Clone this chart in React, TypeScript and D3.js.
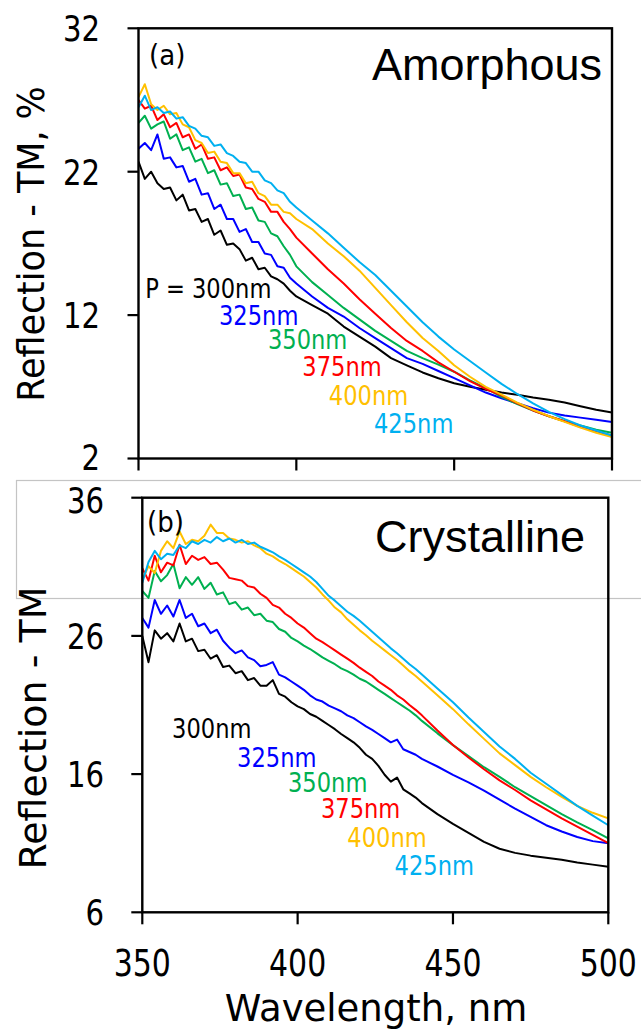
import React from "react";
import * as d3 from "d3";

// ---------- DATA ----------
// Panel (a) Amorphous: wavelength grid (nm)
const wlA = [
  350, 352, 354, 356, 358, 360, 362, 364, 366, 368, 370, 372, 374, 376, 378, 380,
  382, 384, 386, 388, 390, 392, 394, 396, 398, 400,
  405, 410, 415, 420, 425, 430, 435, 440, 445, 450, 455, 460, 465, 470, 475, 480,
  485, 490, 495, 500,
];
const amP300 = [
  22.7, 21.5, 22.0, 21.2, 20.8, 20.9, 20.0, 20.4, 19.3, 19.4, 18.5, 18.7, 17.6, 17.9, 16.9, 17.0,
  16.6, 15.8, 16.0, 15.2, 15.3, 14.7, 14.5, 14.2, 13.7, 13.3,
  12.7, 12.1, 11.2, 10.5, 9.8, 9.0, 8.5, 8.0, 7.6, 7.25, 7.0, 6.8, 6.6, 6.45, 6.25, 6.1,
  5.9, 5.65, 5.4, 5.2,
];
const amP325 = [
  23.6, 24.0, 23.5, 24.6, 22.9, 23.0, 22.3, 22.4, 21.3, 21.5, 20.4, 20.5, 19.4, 19.7, 18.7, 18.7,
  17.8, 18.0, 17.1, 17.1, 16.3, 16.2, 15.4, 15.3, 14.6, 14.2,
  13.3, 12.5, 11.9, 11.1, 10.4, 9.7, 9.0, 8.6, 8.1, 7.6, 7.1, 6.6, 6.2, 5.85, 5.5, 5.2,
  5.0, 4.85, 4.7, 4.55,
];
const amP350 = [
  25.4, 25.9, 25.0, 25.3, 25.5, 24.3, 24.6, 23.5, 23.7, 22.7, 22.9, 21.9, 22.1, 21.1, 21.2, 20.3,
  20.4, 19.4, 19.5, 18.6, 18.5, 17.7, 17.5, 16.8, 16.2, 15.4,
  14.3, 13.4, 12.5, 11.7, 10.9, 10.2, 9.5, 9.0, 8.55, 8.05, 7.45, 6.9, 6.3, 5.8, 5.35, 4.95,
  4.6, 4.3, 4.0, 3.8,
];
const amP375 = [
  27.0, 26.4, 26.6, 25.6, 26.0, 25.1, 25.4, 24.4, 24.6, 23.6, 23.9, 22.9, 23.0, 22.1, 22.3, 21.7,
  21.8, 20.9, 20.8, 20.1, 19.9, 19.2, 19.2, 18.5, 18.0, 17.4,
  16.3, 15.2, 14.2, 13.1, 12.1, 11.1, 10.2, 9.5, 8.7, 8.05, 7.4, 6.85, 6.4, 5.85, 5.35, 4.95,
  4.6, 4.2, 3.9, 3.6,
];
const amP400 = [
  27.2, 28.1, 26.7, 26.3, 26.6, 26.0, 26.1, 25.3, 25.1, 24.2, 24.0, 23.3, 23.4, 22.7, 22.6, 21.9,
  21.9, 21.2, 21.3, 20.5, 20.3, 19.7, 19.7, 19.2, 19.1, 18.7,
  18.0, 17.0, 16.1, 15.1, 13.9, 12.7, 11.5, 10.4, 9.5, 8.5, 7.7, 7.0, 6.45, 5.9, 5.4, 4.95,
  4.55, 4.15, 3.8, 3.5,
];
const amP425 = [
  26.5, 27.3, 26.3, 26.5, 26.1, 26.2, 25.7, 25.8, 25.2, 25.0, 24.5, 24.4, 23.8, 23.9, 23.3, 23.1,
  22.7, 22.6, 22.0, 22.0, 21.4, 21.2, 20.7, 20.5, 19.9, 19.5,
  18.6, 17.7, 16.7, 15.7, 14.8, 13.7, 12.6, 11.5, 10.5, 9.6, 8.8, 8.0, 7.2, 6.5, 5.85, 5.25,
  4.75, 4.3, 3.95, 3.6,
];

// Panel (b) Crystalline: wavelength grid (nm)
const wlB = [
  350, 352, 354, 356, 358, 360, 362, 364, 366, 368, 370, 372, 374, 376, 378, 380,
  382, 384, 386, 388, 390, 392, 394, 396, 398, 400, 402, 404, 406, 408, 410, 412,
  414, 416, 418, 420, 422, 424, 426, 428, 430, 432, 434, 436, 438, 440,
  445, 450, 455, 460, 465, 470, 475, 480, 485, 490, 495, 500,
];
const crP300 = [
  26.0, 24.1, 26.4, 25.8, 26.2, 25.6, 26.9, 25.6, 25.8, 24.9, 25.0, 24.35, 24.6, 23.75, 23.85, 23.3,
  23.45, 22.8, 22.95, 22.4, 22.4, 22.8, 21.8, 21.6, 21.2, 20.9, 20.7, 20.35, 20.15, 19.85, 19.55, 19.25,
  18.9, 18.6, 18.3, 17.9, 17.4, 17.1, 16.6, 15.95, 15.45, 15.75, 14.9, 14.6, 14.3, 13.9,
  13.1, 12.4, 11.75, 11.1, 10.6, 10.3, 10.1, 9.95, 9.8, 9.6, 9.45, 9.3,
];
const crP325 = [
  27.3, 26.6, 28.6, 27.6, 28.2, 27.4, 28.6, 27.3, 27.6, 26.7, 26.9, 26.2, 26.45, 25.65, 25.15, 24.75,
  24.95, 24.45, 24.25, 23.8, 23.9, 24.1, 23.2, 23.0, 22.7, 22.4, 22.1, 21.7, 21.4, 21.25, 20.95, 20.75,
  20.55, 20.25, 20.05, 19.75, 19.45, 19.2, 18.9, 18.6, 18.3, 18.5, 17.8, 17.6, 17.4, 17.1,
  16.55, 15.95, 15.4, 14.8, 14.15, 13.5, 12.9, 12.3, 11.85, 11.45, 11.15, 11.0,
];
const crP350 = [
  29.25, 28.75, 30.7, 29.95, 30.4, 31.2, 29.45, 30.25, 29.7, 30.25, 29.4, 29.85, 29.0, 29.15, 28.3, 28.45,
  27.9, 28.05, 27.5, 27.6, 27.1, 27.0, 26.5, 26.3, 25.85, 25.6, 25.3, 25.05, 24.75, 24.45, 24.2, 23.95,
  23.65, 23.45, 23.2, 22.9, 22.7, 22.4, 22.1, 21.8, 21.5, 21.2, 20.9, 20.6, 20.25, 19.85,
  18.95, 18.1, 17.3, 16.5, 15.8, 15.05, 14.4, 13.75, 13.1, 12.5, 11.95, 11.35,
];
const crP375 = [
  30.9, 30.0, 31.8, 30.6, 31.3, 31.1, 32.6, 31.2, 31.8, 31.5, 31.7, 31.2, 31.3, 30.8, 30.2, 30.1,
  30.0, 29.6, 29.5, 29.05, 28.75, 28.25, 28.05, 27.6, 27.3, 26.9, 26.6, 26.2, 25.8, 25.55, 25.25, 24.95,
  24.65, 24.35, 24.05, 23.7, 23.4, 23.1, 22.7, 22.4, 22.1, 21.7, 21.4, 21.0, 20.65, 20.25,
  19.15, 18.1, 17.2, 16.35, 15.55, 14.85, 14.1, 13.45, 12.8, 12.2, 11.6, 11.0,
];
const crP400 = [
  30.05, 31.05, 30.55, 32.15, 32.85, 32.35, 33.55, 32.65, 32.95, 32.85, 33.25, 34.05, 33.45, 33.45, 33.05, 32.95,
  32.75, 32.85, 32.55, 32.35, 31.95, 31.75, 31.45, 31.2, 30.9, 30.6, 30.3, 29.9, 29.5, 29.0, 28.55, 28.05,
  27.7, 27.2, 26.8, 26.4, 26.05, 25.65, 25.3, 24.95, 24.6, 24.25, 23.85, 23.45, 23.1, 22.7,
  21.7, 20.7, 19.6, 18.55, 17.5, 16.65, 15.8, 15.05, 14.35, 13.7, 13.2, 12.8,
];
const crP425 = [
  29.85, 31.35, 32.15, 31.55, 31.95, 31.85, 32.55, 32.35, 32.85, 32.65, 32.95, 32.75, 33.15, 32.85, 33.05, 32.75,
  32.95, 32.65, 32.75, 32.45, 32.25, 32.05, 31.75, 31.5, 31.2, 30.9, 30.6, 30.3, 29.9, 29.4, 28.9, 28.55,
  28.15, 27.75, 27.45, 27.1, 26.7, 26.3, 25.9, 25.5, 25.1, 24.75, 24.35, 23.95, 23.6, 23.2,
  22.2, 21.2, 20.1, 19.05, 18.0, 17.1, 16.1, 15.3, 14.5, 13.7, 13.0, 12.3,
];

const periods = ["300nm", "325nm", "350nm", "375nm", "400nm", "425nm"];
const seriesColors = ["#000000", "#0000ff", "#00b050", "#ff0000", "#ffc000", "#00b0f0"];
const yTicksA = [2, 12, 22, 32];
const yTicksB = [6, 16, 26, 36];
const xTicks = [350, 400, 450, 500];

// label anchors in data units (wavelength, reflection)
const labelAnchorsA: [number, number][] = [
  [352.1, 13.2], [375.5, 11.3], [391.0, 9.64], [401.9, 7.75], [410.3, 5.73], [424.6, 3.78],
];
const labelAnchorsB: [number, number][] = [
  [359.6, 18.62], [380.5, 16.53], [396.9, 14.72], [407.5, 12.84], [416.0, 10.74], [431.2, 8.72],
];

const seriesA = [amP300, amP325, amP350, amP375, amP400, amP425];
const seriesB = [crP300, crP325, crP350, crP375, crP400, crP425];

// ---------- LAYOUT ----------
const W = 641;
const H = 1032;
const TICK_FONT = "'DejaVu Sans Condensed', 'DejaVu Sans', sans-serif";
const TITLE_FONT = "'DejaVu Sans', sans-serif";
const NAME_FONT = "'Liberation Sans', Arial, sans-serif";
const TICK_FS = 36;

type PanelProps = {
  wl: number[];
  series: number[][];
  xRange: [number, number];
  yDomain: [number, number];
  yRange: [number, number];
  yTicks: number[];
  anchors: [number, number][];
  firstLabel: string;
  tag: string;
  tagX: number;
  tagY: number;
  name: string;
  nameX: number;
  nameY: number;
  tickLabelRight: number;
  showXLabels: boolean;
  clipId: string;
  edgeNudge: number; // small vertical nudge for the tick label at the panel edge near the other panel
  edgeTick: number;
};

function Panel(p: PanelProps) {
  const x = d3.scaleLinear().domain([350, 500]).range(p.xRange);
  const y = d3.scaleLinear().domain(p.yDomain).range(p.yRange);
  const [x0, x1] = p.xRange;
  const yb = p.yRange[0];
  const yt = p.yRange[1];
  const line = d3
    .line<number>()
    .x((_, i) => x(p.wl[i]))
    .y((d) => y(d));
  const half = (0.729 * TICK_FS) / 2;
  return (
    <g>
      <defs>
        <clipPath id={p.clipId}>
          <rect x={x0} y={yt} width={x1 - x0} height={yb - yt} />
        </clipPath>
      </defs>
      <g clipPath={`url(#${p.clipId})`}>
        {p.series.map((s, i) => (
          <path
            key={i}
            d={line(s) || ""}
            fill="none"
            stroke={seriesColors[i]}
            strokeWidth={2}
            strokeLinejoin="round"
          />
        ))}
      </g>
      {/* frame */}
      <rect x={x0} y={yt} width={x1 - x0} height={yb - yt} fill="none" stroke="#000" strokeWidth={2.4} />
      {/* y ticks */}
      {p.yTicks.map((t) => (
        <g key={"yt" + t}>
          <line x1={x0 - 11} x2={x0} y1={y(t)} y2={y(t)} stroke="#000" strokeWidth={2.2} />
          <g
            transform={`translate(${p.tickLabelRight},${
              y(t) + half + (t === p.edgeTick ? p.edgeNudge : 0)
            }) scale(0.9,1)`}
          >
            <text textAnchor="end" fontFamily={TICK_FONT} fontSize={TICK_FS} fill="#000">
              {t}
            </text>
          </g>
        </g>
      ))}
      {/* x ticks */}
      {xTicks.map((t) => (
        <g key={"xt" + t}>
          <line x1={x(t)} x2={x(t)} y1={yb} y2={yb + 12} stroke="#000" strokeWidth={2.2} />
          {p.showXLabels && (
            <g transform={`translate(${x(t)},${yb + 64}) scale(0.9,1)`}>
              <text textAnchor="middle" fontFamily={TICK_FONT} fontSize={TICK_FS + 1} fill="#000">
                {t}
              </text>
            </g>
          )}
        </g>
      ))}
      {/* series labels */}
      {p.anchors.map(([lx, ly], i) => (
        <g key={"lab" + i} transform={`translate(${x(lx)},${y(ly)}) scale(0.93,1)`}>
          <text fontFamily={TICK_FONT} fontSize={27} fill={seriesColors[i]}>
            {i === 0 ? p.firstLabel : periods[i]}
          </text>
        </g>
      ))}
      <text x={p.tagX} y={p.tagY} fontFamily={TICK_FONT} fontSize={29} fill="#000">
        {p.tag}
      </text>
      <text x={p.nameX} y={p.nameY} textAnchor="end" fontFamily={NAME_FONT} fontSize={45} fill="#000">
        {p.name}
      </text>
    </g>
  );
}

export default function App() {
  return (
    <svg
      width={W}
      height={H}
      viewBox={`0 0 ${W} ${H}`}
      style={{ position: "absolute", left: 0, top: 0, background: "#fff" }}
    >
      <rect x={0} y={0} width={W} height={H} fill="#fff" />
      {/* light gray overlay box */}
      <rect x={16.5} y={480.5} width={700} height={118} fill="none" stroke="#c4c4c4" strokeWidth={1.2} />
      <Panel
        wl={wlA}
        series={seriesA}
        xRange={[138.5, 612]}
        yDomain={[2, 32]}
        yRange={[458.5, 28.3]}
        yTicks={yTicksA}
        anchors={labelAnchorsA}
        firstLabel={"P = 300nm"}
        tag="(a)"
        tagX={149}
        tagY={65}
        name="Amorphous"
        nameX={602}
        nameY={80}
        tickLabelRight={100}
        showXLabels={false}
        clipId="clipA"
        edgeTick={2}
        edgeNudge={-2}
      />
      <Panel
        wl={wlB}
        series={seriesB}
        xRange={[142.3, 608.3]}
        yDomain={[6, 36]}
        yRange={[912.3, 497.7]}
        yTicks={yTicksB}
        anchors={labelAnchorsB}
        firstLabel={periods[0]}
        tag="(b)"
        tagX={147}
        tagY={532}
        name="Crystalline"
        nameX={585}
        nameY={552}
        tickLabelRight={104}
        showXLabels={true}
        clipId="clipB"
        edgeTick={36}
        edgeNudge={2}
      />
      {/* axis titles */}
      <g transform="translate(44,244) rotate(-90) scale(0.92,1)">
        <text textAnchor="middle" fontFamily={TITLE_FONT} fontSize={38} fill="#000">
          Reflection - TM, %
        </text>
      </g>
      <g transform="translate(46,728) rotate(-90)">
        <text textAnchor="middle" fontFamily={TITLE_FONT} fontSize={38} fill="#000">
          Reflection - TM
        </text>
      </g>
      <text x={376} y={1021} textAnchor="middle" fontFamily={TITLE_FONT} fontSize={37} fill="#000">
        Wavelength, nm
      </text>
    </svg>
  );
}
